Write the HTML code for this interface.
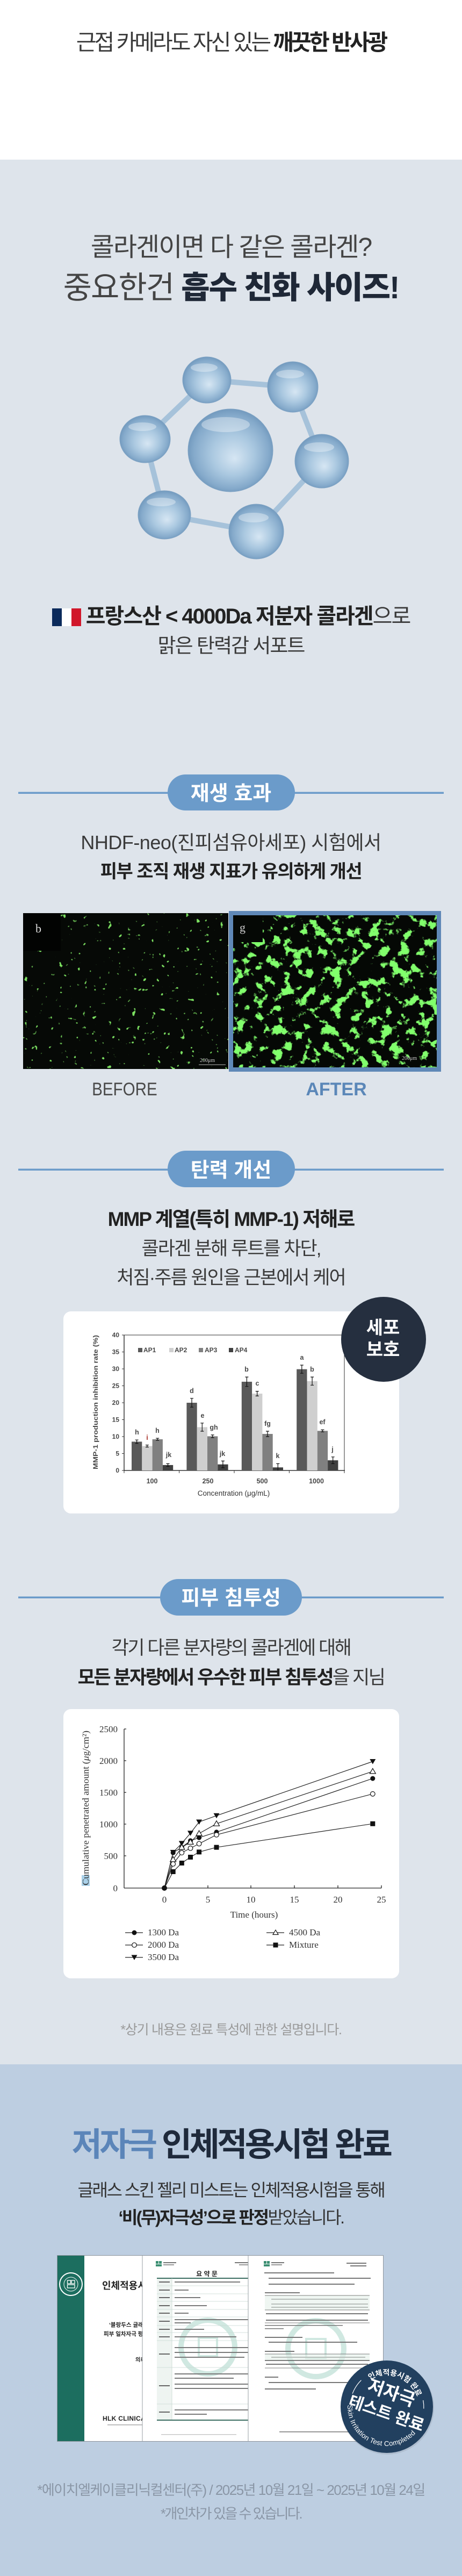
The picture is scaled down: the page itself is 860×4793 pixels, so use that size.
<!DOCTYPE html>
<html><head><meta charset="utf-8">
<style>
html,body{margin:0;padding:0;}
body{width:860px;height:4793px;position:relative;overflow:hidden;background:#fff;font-family:"Liberation Sans","Noto Sans CJK KR",sans-serif;}
.bg{position:absolute;left:0;width:860px;}
.t{position:absolute;left:0;width:860px;text-align:center;white-space:nowrap;line-height:1;font-family:"Liberation Sans","Noto Sans CJK KR",sans-serif;color:#3a3a3a;}
.t b{font-weight:700;color:#222;}
.flag{display:inline-block;width:54px;height:33px;vertical-align:-5px;margin-right:9px;background:linear-gradient(90deg,#0b2a5b 0 33.3%,#ffffff 33.3% 66.6%,#d1172b 66.6% 100%);}
svg{position:absolute;left:0;top:0;}
</style></head>
<body>
<div class="bg" style="top:0;height:297px;background:#ffffff"></div>
<div class="bg" style="top:297px;height:3544px;background:#dee4eb"></div>
<div class="bg" style="top:3841px;height:952px;background:#bdcee1"></div>

<svg width="860" height="4793" viewBox="0 0 860 4793" xmlns="http://www.w3.org/2000/svg">
<defs>
<radialGradient id="sph" cx="0.5" cy="0.5" r="0.55" fx="0.55" fy="0.6">
<stop offset="0" stop-color="#d6e6f3"/>
<stop offset="0.45" stop-color="#aac8e0"/>
<stop offset="0.8" stop-color="#85aacb"/>
<stop offset="1" stop-color="#6790b6"/>
</radialGradient>
<filter id="fa" x="0" y="0" width="1" height="1">
<feTurbulence type="fractalNoise" baseFrequency="0.055" numOctaves="4" seed="7" result="n"/>
<feColorMatrix in="n" type="matrix" values="0 0 0 0 0.22  0 0 0 0 1  0 0 0 0 0.15  12 0 0 0 -6.7"/>
</filter>
<filter id="fb" x="0" y="0" width="1" height="1">
<feTurbulence type="fractalNoise" baseFrequency="0.11" numOctaves="2" seed="4" result="n"/>
<feColorMatrix in="n" type="matrix" values="0 0 0 0 0.2  0 0 0 0 0.75  0 0 0 0 0.12  14 0 0 0 -9.9"/>
</filter>
</defs>

<!-- molecule -->
<g stroke="#a6c2da" stroke-width="10" stroke-linecap="round" fill="none">
<line x1="385" y1="707" x2="545" y2="720"/>
<line x1="545" y1="720" x2="599" y2="858"/>
<line x1="599" y1="858" x2="477" y2="989"/>
<line x1="477" y1="989" x2="306" y2="958"/>
<line x1="306" y1="958" x2="270" y2="817"/>
<line x1="270" y1="817" x2="385" y2="707"/>
</g>
<g fill="url(#sph)" stroke="#7fa3c4" stroke-width="1">
<ellipse cx="429" cy="838" rx="79" ry="77"/>
<ellipse cx="385" cy="707" rx="45" ry="43"/>
<ellipse cx="545" cy="720" rx="47" ry="47"/>
<ellipse cx="270" cy="817" rx="47" ry="44"/>
<ellipse cx="599" cy="858" rx="50" ry="50"/>
<ellipse cx="306" cy="958" rx="49" ry="45"/>
<ellipse cx="477" cy="989" rx="51" ry="51"/>
</g>
<g fill="#ffffff" opacity="0.35">
<ellipse cx="420" cy="790" rx="45" ry="14"/>
<ellipse cx="380" cy="684" rx="25" ry="8"/>
<ellipse cx="540" cy="696" rx="26" ry="8"/>
<ellipse cx="265" cy="794" rx="26" ry="8"/>
<ellipse cx="594" cy="832" rx="28" ry="9"/>
<ellipse cx="300" cy="934" rx="27" ry="8"/>
<ellipse cx="472" cy="963" rx="28" ry="9"/>
</g>

<!-- pill 1 -->
<rect x="34" y="1473.5" width="792" height="3.5" fill="#6b9bca"/>
<rect x="312" y="1441" width="237" height="67" rx="33.5" fill="#6b9bca"/>
<text x="430" y="1489" text-anchor="middle" font-family="Liberation Sans, Noto Sans CJK KR, sans-serif" font-weight="700" font-size="38" fill="#ffffff">재생 효과</text>

<!-- before / after images -->
<rect x="43" y="1699" width="382" height="290" fill="#060906"/>
<rect x="43" y="1699" width="382" height="290" fill="#000" filter="url(#fb)"/>
<rect x="43" y="1699" width="70" height="70" fill="#020302"/>
<text x="66" y="1735" font-family="Liberation Serif, serif" font-size="22" fill="#dddddd">b</text>
<text x="372" y="1976" font-family="Liberation Serif, serif" font-size="10" fill="#cccccc">200μm</text>
<line x1="370" y1="1981" x2="420" y2="1981" stroke="#bbbbbb" stroke-width="1"/>
<rect x="426" y="1695" width="395" height="299" fill="#5f88b7"/>
<rect x="434" y="1703" width="379" height="283" fill="#050805"/>
<rect x="434" y="1703" width="379" height="283" fill="#000" filter="url(#fa)"/>
<rect x="434" y="1703" width="55" height="50" fill="#050805"/>
<text x="446" y="1733" font-family="Liberation Serif, serif" font-size="22" fill="#cccccc">g</text>
<text x="748" y="1972" font-family="Liberation Serif, serif" font-size="10" fill="#cccccc">200μm</text>

<!-- pill 2 -->
<rect x="34" y="2174.5" width="792" height="3.5" fill="#6b9bca"/>
<rect x="312" y="2141" width="237" height="68" rx="34" fill="#6b9bca"/>
<text x="430" y="2190" text-anchor="middle" font-family="Liberation Sans, Noto Sans CJK KR, sans-serif" font-weight="700" font-size="38" fill="#ffffff">탄력 개선</text>

<!-- card 1 : bar chart -->
<rect x="118" y="2440" width="625" height="376" rx="14" fill="#ffffff"/>
<g font-family="Liberation Sans, Arial, sans-serif" font-weight="700" fill="#474747">
<g font-size="12" text-anchor="end">
<text x="222" y="2740">0</text>
<text x="222" y="2708.5">5</text>
<text x="222" y="2677">10</text>
<text x="222" y="2645.5">15</text>
<text x="222" y="2614">20</text>
<text x="222" y="2582.5">25</text>
<text x="222" y="2551">30</text>
<text x="222" y="2519.5">35</text>
<text x="222" y="2488">40</text>
</g>
<text transform="translate(182,2609) rotate(-90)" text-anchor="middle" font-size="12" textLength="250" lengthAdjust="spacingAndGlyphs">MMP-1 production inhibition rate (%)</text>
<g font-size="12.5" text-anchor="middle">
<text x="283" y="2760">100</text>
<text x="387" y="2760">250</text>
<text x="488" y="2760">500</text>
<text x="589" y="2760">1000</text>
</g>
<text x="435" y="2783" text-anchor="middle" font-size="13.5" font-weight="400" fill="#333">Concentration (μg/mL)</text>
<g font-size="12">
<rect x="257" y="2508" width="8" height="8" fill="#595959"/><text x="267" y="2516">AP1</text>
<rect x="315" y="2508" width="8" height="8" fill="#cfcfcf"/><text x="325" y="2516">AP2</text>
<rect x="370" y="2508" width="8" height="8" fill="#808080"/><text x="381" y="2516">AP3</text>
<rect x="426" y="2508" width="8" height="8" fill="#404040"/><text x="437" y="2516">AP4</text>
</g>
</g>
<g stroke="#333" fill="none">
<line x1="231" y1="2484" x2="641" y2="2484" stroke-width="1"/>
<line x1="641" y1="2484" x2="641" y2="2736" stroke-width="1"/>
<line x1="231" y1="2484" x2="231" y2="2737" stroke-width="1.5"/>
<line x1="231" y1="2736" x2="642" y2="2736" stroke-width="1.5"/>
<path d="M227 2736H231M227 2704.5H231M227 2673H231M227 2641.5H231M227 2610H231M227 2578.5H231M227 2547H231M227 2515.5H231M227 2484H231" stroke-width="1"/>
<path d="M231 2736V2741M333.6 2736V2741M436 2736V2741M538.4 2736V2741M641 2736V2741" stroke-width="1"/>
</g>
<g>
<rect x="245" y="2682.4" width="19.3" height="53.6" fill="#595959"/>
<rect x="264.3" y="2690.6" width="19.3" height="45.4" fill="#cfcfcf"/>
<rect x="283.6" y="2678" width="19.3" height="58" fill="#808080"/>
<rect x="302.9" y="2725.9" width="19.3" height="10.1" fill="#404040"/>
<rect x="347.4" y="2610" width="19.3" height="126" fill="#595959"/>
<rect x="366.7" y="2655.4" width="19.3" height="80.6" fill="#cfcfcf"/>
<rect x="386" y="2672.4" width="19.3" height="63.6" fill="#808080"/>
<rect x="405.3" y="2724.7" width="19.3" height="11.3" fill="#404040"/>
<rect x="449.8" y="2570.9" width="19.3" height="165.1" fill="#595959"/>
<rect x="469.1" y="2593" width="19.3" height="143" fill="#cfcfcf"/>
<rect x="488.4" y="2668" width="19.3" height="68" fill="#808080"/>
<rect x="507.7" y="2730.3" width="19.3" height="5.7" fill="#404040"/>
<rect x="552.2" y="2547.6" width="19.3" height="188.4" fill="#595959"/>
<rect x="571.5" y="2569.7" width="19.3" height="166.3" fill="#cfcfcf"/>
<rect x="590.8" y="2662.3" width="19.3" height="73.7" fill="#808080"/>
<rect x="610.1" y="2717.1" width="19.3" height="18.9" fill="#404040"/>
</g>
<g stroke="#111" stroke-width="1.2" fill="none">
<path d="M254.6 2679.2V2685.6M251.6 2679.2H257.6M251.6 2685.6H257.6"/>
<path d="M273.9 2688.7V2692.5M270.9 2688.7H276.9M270.9 2692.5H276.9"/>
<path d="M293.2 2676.1V2679.9M290.2 2676.1H296.2M290.2 2679.9H296.2"/>
<path d="M312.5 2723.4V2728.4M309.5 2723.4H315.5M309.5 2728.4H315.5"/>
<path d="M357 2601.8V2618.2M354 2601.8H360M354 2618.2H360"/>
<path d="M376.3 2647.8V2663M373.3 2647.8H379.3M373.3 2663H379.3"/>
<path d="M395.6 2669.9V2674.9M392.6 2669.9H398.6M392.6 2674.9H398.6"/>
<path d="M414.9 2718.4V2731M411.9 2718.4H417.9M411.9 2731H417.9"/>
<path d="M459.4 2562.1V2579.7M456.4 2562.1H462.4M456.4 2579.7H462.4"/>
<path d="M478.7 2588.6V2597.4M475.7 2588.6H481.7M475.7 2597.4H481.7"/>
<path d="M498 2663V2673M495 2663H501M495 2673H501"/>
<path d="M517.3 2723.4V2736M514.3 2723.4H520.3"/>
<path d="M561.8 2540V2555.2M558.8 2540H564.8M558.8 2555.2H564.8"/>
<path d="M581.1 2562.1V2577.3M578.1 2562.1H584.1M578.1 2577.3H584.1"/>
<path d="M600.4 2660.4V2664.2M597.4 2660.4H603.4M597.4 2664.2H603.4"/>
<path d="M619.7 2710.8V2723.4M616.7 2710.8H622.7M616.7 2723.4H622.7"/>
</g>
<g font-family="Liberation Sans, Arial, sans-serif" font-size="12.5" font-weight="700" fill="#474747" text-anchor="middle">
<text x="255" y="2669">h</text>
<text x="274" y="2679" fill="#a8322a">i</text>
<text x="293" y="2666">h</text>
<text x="314" y="2711">jk</text>
<text x="357" y="2592">d</text>
<text x="377" y="2638">e</text>
<text x="398" y="2660">gh</text>
<text x="414" y="2709">jk</text>
<text x="459" y="2552">b</text>
<text x="479" y="2578">c</text>
<text x="498" y="2653">fg</text>
<text x="517" y="2713">k</text>
<text x="562" y="2530">a</text>
<text x="581" y="2552">b</text>
<text x="600" y="2650">ef</text>
<text x="619" y="2701">j</text>
</g>
<circle cx="714" cy="2492" r="79" fill="#252f3f"/>
<text x="713" y="2482" text-anchor="middle" font-family="Liberation Sans, Noto Sans CJK KR, sans-serif" font-weight="700" font-size="34" fill="#ffffff">세포</text>
<text x="713" y="2523" text-anchor="middle" font-family="Liberation Sans, Noto Sans CJK KR, sans-serif" font-weight="700" font-size="34" fill="#ffffff">보호</text>

<!-- pill 3 -->
<rect x="34" y="2970.5" width="792" height="3.5" fill="#6b9bca"/>
<rect x="298" y="2938" width="264" height="68" rx="34" fill="#6b9bca"/>
<text x="430" y="2986" text-anchor="middle" font-family="Liberation Sans, Noto Sans CJK KR, sans-serif" font-weight="700" font-size="38" fill="#ffffff">피부 침투성</text>

<!-- card 2 : line chart -->
<rect x="118" y="3180" width="625" height="501" rx="14" fill="#ffffff"/>
<g stroke="#222" fill="none" stroke-width="1.3">
<line x1="231" y1="3217" x2="231" y2="3513"/>
<line x1="231" y1="3513" x2="710" y2="3513"/>
<path d="M231 3217H235M231 3276H235M231 3335H235M231 3394H235M231 3453H235"/>
<path d="M306 3513V3508M387 3513V3508M467 3513V3508M548 3513V3508M629 3513V3508M710 3513V3508"/>
</g>
<g font-family="Liberation Serif, serif" font-size="17" fill="#333">
<g text-anchor="end">
<text x="219" y="3223">2500</text>
<text x="219" y="3282">2000</text>
<text x="219" y="3341">1500</text>
<text x="219" y="3400">1000</text>
<text x="219" y="3459">500</text>
<text x="219" y="3519">0</text>
</g>
<g text-anchor="middle">
<text x="306" y="3540">0</text>
<text x="387" y="3540">5</text>
<text x="467" y="3540">10</text>
<text x="548" y="3540">15</text>
<text x="629" y="3540">20</text>
<text x="710" y="3540">25</text>
<text x="473" y="3568">Time (hours)</text>
</g>
<rect x="152" y="3489" width="15" height="20" fill="#a9d0e8"/>
<text transform="translate(165,3364) rotate(-90)" text-anchor="middle" textLength="288" lengthAdjust="spacingAndGlyphs">Cumulative penetrated amount (<tspan font-style="italic">μ</tspan>g/cm²)</text>
<text x="275" y="3601">1300 Da</text>
<text x="275" y="3624">2000 Da</text>
<text x="275" y="3647">3500 Da</text>
<text x="538" y="3601">4500 Da</text>
<text x="538" y="3624">Mixture</text>
</g>
<g stroke="#222" stroke-width="1.2" fill="none">
<polyline points="306,3513 322.2,3446.5 338.3,3429.9 354.5,3410.9 370.6,3390 403,3378.3 693.8,3277.5"/>
<polyline points="306,3513 322.2,3459.8 338.3,3437.2 354.5,3427.5 370.6,3411.5 403,3393.3 693.8,3295.9"/>
<polyline points="306,3513 322.2,3447.2 338.3,3437.2 354.5,3424.9 370.6,3419.2 403,3408.9 693.8,3309.1"/>
<polyline points="306,3513 322.2,3468.1 338.3,3447.2 354.5,3438.9 370.6,3430.5 403,3413.9 693.8,3337.8"/>
<polyline points="306,3513 322.2,3482.5 338.3,3466.5 354.5,3455.5 370.6,3445.9 403,3437.2 693.8,3393.3"/>
<line x1="233" y1="3596" x2="266" y2="3596"/>
<line x1="233" y1="3619" x2="266" y2="3619"/>
<line x1="233" y1="3642" x2="266" y2="3642"/>
<line x1="496" y1="3596" x2="529" y2="3596"/>
<line x1="496" y1="3619" x2="529" y2="3619"/>
</g>
<g fill="#111">
<path d="M316.7 3442H327.7L322.2 3451.5ZM332.8 3425.4H343.8L338.3 3434.9ZM349 3406.4H360L354.5 3415.9ZM365.1 3385.5H376.1L370.6 3395ZM397.5 3373.8H408.5L403 3383.3ZM688.3 3273H699.3L693.8 3282.5ZM244.5 3637.5H255.5L250 3647Z"/>
<circle cx="322.2" cy="3447.2" r="4.5"/><circle cx="338.3" cy="3437.2" r="4.5"/><circle cx="354.5" cy="3424.9" r="4.5"/><circle cx="370.6" cy="3419.2" r="4.5"/><circle cx="403" cy="3408.9" r="4.5"/><circle cx="693.8" cy="3309.1" r="4.5"/><circle cx="250" cy="3596" r="4.5"/>
<rect x="317.7" y="3478" width="9" height="9"/><rect x="333.8" y="3462" width="9" height="9"/><rect x="350" y="3451" width="9" height="9"/><rect x="366.1" y="3441.4" width="9" height="9"/><rect x="398.5" y="3432.7" width="9" height="9"/><rect x="689.3" y="3388.8" width="9" height="9"/><rect x="508.5" y="3614.5" width="9" height="9"/>
<circle cx="306" cy="3513" r="5"/>
</g>
<g fill="#ffffff" stroke="#111" stroke-width="1.2">
<circle cx="322.2" cy="3468.1" r="4.3"/><circle cx="338.3" cy="3447.2" r="4.3"/><circle cx="354.5" cy="3438.9" r="4.3"/><circle cx="370.6" cy="3430.5" r="4.3"/><circle cx="403" cy="3413.9" r="4.3"/><circle cx="693.8" cy="3337.8" r="4.3"/><circle cx="250" cy="3619" r="4.3"/>
<path d="M322.2 3454.3L327.7 3463.8H316.7ZM338.3 3431.7L343.8 3441.2H332.8ZM354.5 3422L360 3431.5H349ZM370.6 3406L376.1 3415.5H365.1ZM403 3387.8L408.5 3397.3H397.5ZM693.8 3290.4L699.3 3299.9H688.3ZM513 3591L518 3599.5H508Z"/>
</g>

<!-- documents -->
<rect x="106.5" y="4196.5" width="607" height="346" fill="#ffffff" stroke="#8d949c" stroke-width="1"/>
<rect x="107" y="4197" width="50" height="345" fill="#1c6e5f"/>
<circle cx="132" cy="4250" r="21" fill="#1c6e5f" stroke="#ffffff" stroke-width="2"/>
<circle cx="132" cy="4250" r="13" fill="none" stroke="#ffffff" stroke-width="1"/>
<g fill="none" stroke="#ffffff" stroke-width="1.3"><rect x="125.5" y="4243" width="6" height="6"/><rect x="133" y="4243" width="6" height="6"/><rect x="125.5" y="4251" width="13.5" height="6"/></g>
<g font-family="Liberation Sans, Noto Sans CJK KR, sans-serif" fill="#222">
<text x="190" y="4259" font-size="18" font-weight="700">인체적용시험</text>
<text x="203" y="4329" font-size="10.5" font-weight="700">‘블랑두스 글래스</text>
<text x="193" y="4346" font-size="10.5" font-weight="700">피부 일차자극 평가에</text>
<text x="252" y="4394" font-size="10" font-weight="700">의뢰</text>
<text x="191" y="4504" font-size="12" font-weight="700" letter-spacing="0.3">HLK CLINICAL TRIAL</text>
</g>
<rect x="200" y="4511" width="70" height="1.5" fill="#aaa"/>
<!-- page 2 -->
<rect x="265" y="4197" width="197" height="345" fill="#ffffff"/>
<line x1="265" y1="4197" x2="265" y2="4542" stroke="#9aa0a6" stroke-width="1"/>
<circle cx="387" cy="4367" r="50" fill="none" stroke="#a9d6c9" stroke-width="10" opacity="0.55"/>
<rect x="370" y="4350" width="34" height="34" fill="none" stroke="#a9d6c9" stroke-width="4" opacity="0.55"/>
<g fill="#3c8f73"><rect x="290" y="4207" width="5" height="5"/><rect x="296" y="4207" width="5" height="5"/><rect x="290" y="4213" width="11" height="4"/></g>
<rect x="304" y="4209" width="24" height="2" fill="#777"/><rect x="304" y="4213" width="20" height="2" fill="#999"/>
<rect x="437" y="4209" width="25" height="2" fill="#777"/><rect x="445" y="4213" width="17" height="2" fill="#999"/>
<text x="385" y="4235" text-anchor="middle" font-family="Liberation Sans, Noto Sans CJK KR, sans-serif" font-size="12" font-weight="700" fill="#222">요 약 문</text>
<rect x="292" y="4239" width="28" height="264" fill="#eef4f1"/>
<line x1="292" y1="4239" x2="462" y2="4239" stroke="#3c6e62" stroke-width="2"/>
<line x1="320" y1="4239" x2="320" y2="4503" stroke="#c8d8d2" stroke-width="0.8"/>
<g stroke="#c8d8d2" stroke-width="0.8">
<line x1="292" y1="4253" x2="462" y2="4253"/><line x1="292" y1="4268" x2="462" y2="4268"/><line x1="292" y1="4282" x2="462" y2="4282"/><line x1="292" y1="4297" x2="462" y2="4297"/><line x1="292" y1="4311" x2="462" y2="4311"/><line x1="292" y1="4327" x2="462" y2="4327"/><line x1="292" y1="4340" x2="462" y2="4340"/><line x1="292" y1="4355" x2="462" y2="4355"/><line x1="292" y1="4405" x2="462" y2="4405"/><line x1="292" y1="4473" x2="462" y2="4473"/>
</g>
<line x1="292" y1="4503" x2="462" y2="4503" stroke="#3c6e62" stroke-width="2"/>
<g fill="#666">
<rect x="296" y="4245" width="20" height="2"/><rect x="296" y="4260" width="20" height="2"/><rect x="296" y="4274" width="20" height="2"/><rect x="296" y="4289" width="20" height="2"/><rect x="296" y="4303" width="20" height="2"/><rect x="296" y="4318" width="20" height="2"/><rect x="296" y="4333" width="20" height="2"/><rect x="296" y="4347" width="20" height="2"/><rect x="296" y="4379" width="20" height="2"/><rect x="296" y="4438" width="20" height="2"/><rect x="296" y="4487" width="20" height="2"/>
</g>
<g fill="#7a7a7a">
<rect x="325" y="4245" width="122" height="2"/><rect x="325" y="4260" width="26" height="2"/><rect x="325" y="4274" width="48" height="2"/><rect x="325" y="4289" width="60" height="2"/><rect x="325" y="4303" width="26" height="2"/><rect x="325" y="4315" width="137" height="2"/><rect x="325" y="4321" width="30" height="2"/><rect x="325" y="4333" width="55" height="2"/><rect x="325" y="4347" width="115" height="2"/>
<rect x="325" y="4367" width="137" height="2"/><rect x="325" y="4376" width="137" height="2"/><rect x="325" y="4385" width="130" height="2"/>
<rect x="325" y="4416" width="137" height="2"/><rect x="325" y="4424" width="110" height="2"/><rect x="325" y="4435" width="137" height="2"/><rect x="325" y="4443" width="137" height="2"/>
<rect x="325" y="4483" width="137" height="2"/><rect x="325" y="4491" width="60" height="2"/>
</g>
<rect x="300" y="4529" width="140" height="1.5" fill="#c8c8c8"/>
<!-- page 3 -->
<rect x="462" y="4197" width="251" height="345" fill="#ffffff"/>
<line x1="462" y1="4197" x2="462" y2="4542" stroke="#9aa0a6" stroke-width="1"/>
<circle cx="588" cy="4370" r="52" fill="none" stroke="#a9d6c9" stroke-width="10" opacity="0.55"/>
<rect x="570" y="4352" width="36" height="36" fill="none" stroke="#a9d6c9" stroke-width="4" opacity="0.55"/>
<g fill="#3c8f73"><rect x="491" y="4207" width="5" height="5"/><rect x="497" y="4207" width="5" height="5"/><rect x="491" y="4213" width="11" height="4"/></g>
<rect x="505" y="4209" width="24" height="2" fill="#777"/><rect x="505" y="4213" width="20" height="2" fill="#999"/>
<g fill="#777">
<rect x="645" y="4210" width="37" height="2"/><rect x="652" y="4215" width="30" height="2"/>
<rect x="492" y="4228" width="130" height="2"/><rect x="500" y="4238" width="190" height="2"/><rect x="500" y="4249" width="160" height="2"/>
<rect x="493" y="4265" width="65" height="2"/>
<rect x="505" y="4277" width="180" height="2"/><rect x="505" y="4286" width="180" height="2"/><rect x="505" y="4292" width="180" height="2"/>
<rect x="495" y="4304" width="190" height="2"/><rect x="495" y="4316" width="190" height="2"/>
<rect x="493" y="4326" width="145" height="1.5"/><rect x="493" y="4332" width="35" height="1.5"/>
<rect x="493" y="4348" width="70" height="2"/><rect x="500" y="4357" width="165" height="2"/>
<rect x="493" y="4374" width="55" height="2"/><rect x="505" y="4385" width="175" height="2"/><rect x="495" y="4398" width="190" height="2"/>
<rect x="493" y="4422" width="25" height="2"/><rect x="500" y="4432" width="200" height="2"/><rect x="493" y="4444" width="95" height="2"/>
<rect x="520" y="4524" width="170" height="1.5"/>
</g>
<rect x="493" y="4271" width="195" height="27" fill="#e5f0ea" opacity="0.6"/>
<rect x="493" y="4380" width="195" height="12" fill="#e5f0ea" opacity="0.6"/>
<g stroke="#555" stroke-width="0.8">
<line x1="493" y1="4271" x2="688" y2="4271"/><line x1="493" y1="4298" x2="688" y2="4298"/><line x1="493" y1="4322" x2="688" y2="4322"/>
<line x1="493" y1="4380" x2="688" y2="4380"/><line x1="493" y1="4392" x2="688" y2="4392" stroke-width="1.6"/><line x1="493" y1="4406" x2="688" y2="4406"/>
</g>

<!-- badge -->
<circle cx="721" cy="4480" r="87" fill="#000" opacity="0.08"/>
<circle cx="720" cy="4478" r="86" fill="#22405f"/>
<defs>
<path id="arcTop" d="M664.6,4457.8 A59,59 0 0,1 779,4478"/>
<path id="arcBot" d="M647.3,4471.6 A73,73 0 0,0 788.6,4503"/>
</defs>
<text font-family="Liberation Sans, Noto Sans CJK KR, sans-serif" font-weight="700" font-size="14" fill="#ffffff"><textPath href="#arcTop" startOffset="56%" text-anchor="middle">인체적용시험 완료</textPath></text>
<text font-family="Liberation Sans, sans-serif" font-size="13" fill="#ffffff"><textPath href="#arcBot" startOffset="3" textLength="178" lengthAdjust="spacing">Skin Irritation Test Completed</textPath></text>
<g fill="none" stroke="#ffffff" stroke-width="1.2">
<path d="M656.1,4453.7 A69,69 0 0,1 672.4,4428.7"/>
<path d="M787.7,4466.0 A69,69 0 0,1 788.8,4481.6"/>
</g>
<g font-family="Liberation Sans, Noto Sans CJK KR, sans-serif" font-weight="700" fill="#ffffff" text-anchor="middle">
<text transform="translate(725,4463) rotate(19)" font-size="33">저자극</text>
<text transform="translate(716,4500) rotate(19)" font-size="30">테스트 완료</text>
</g>
</svg>

<div class="t" style="top:59px;font-size:41px;letter-spacing:-4px;">근접 카메라도 자신 있는 <b>깨끗한 반사광</b></div>

<div class="t" style="top:437px;font-size:48px;letter-spacing:-2px;color:#444;">콜라겐이면 다 같은 콜라겐?</div>
<div class="t" style="top:507px;font-size:58px;letter-spacing:-2px;color:#444;">중요한건 <b style="color:#1f2837;font-weight:900;">흡수 친화 사이즈!</b></div>

<div class="t" style="top:1127px;font-size:40px;letter-spacing:-2px;"><span class="flag"></span><b>프랑스산 &lt; 4000Da 저분자 콜라겐</b>으로</div>
<div class="t" style="top:1183px;font-size:37px;letter-spacing:-2px;">맑은 탄력감 서포트</div>

<div class="t" style="top:1550px;font-size:36px;letter-spacing:-0.5px;">NHDF-neo(진피섬유아세포) 시험에서</div>
<div class="t" style="top:1605px;font-size:34px;letter-spacing:-1.5px;"><b>피부 조직 재생 지표가 유의하게 개선</b></div>

<div style="position:absolute;left:132px;width:200px;top:2010px;text-align:center;font-size:34px;line-height:1;color:#4a4a4a;white-space:nowrap;"><span style="display:inline-block;transform:scaleX(0.87);">BEFORE</span></div>
<div style="position:absolute;left:526px;width:200px;top:2010px;text-align:center;font-size:34px;line-height:1;color:#5b87b8;font-weight:700;white-space:nowrap;">AFTER</div>

<div class="t" style="top:2250px;font-size:37px;letter-spacing:-2px;"><b>MMP 계열(특히 MMP-1) 저해로</b></div>
<div class="t" style="top:2306px;font-size:35px;letter-spacing:-2px;">콜라겐 분해 루트를 차단,</div>
<div class="t" style="top:2360px;font-size:35px;letter-spacing:-2px;">처짐·주름 원인을 근본에서 케어</div>

<div class="t" style="top:3049px;font-size:35px;letter-spacing:-2.5px;">각기 다른 분자량의 콜라겐에 대해</div>
<div class="t" style="top:3104px;font-size:35px;letter-spacing:-2.5px;"><b>모든 분자량에서 우수한 피부 침투성</b>을 지님</div>

<div class="t" style="top:3765px;font-size:25px;letter-spacing:-1.3px;color:#9a9a9a;">*상기 내용은 원료 특성에 관한 설명입니다.</div>

<div class="t" style="top:3960px;font-size:61px;letter-spacing:-4.5px;font-weight:700;color:#1f2a3b;"><span style="color:#5b85b9;">저자극</span> 인체적용시험 완료</div>
<div class="t" style="top:4059px;font-size:32px;letter-spacing:-2.5px;color:#333;">글래스 스킨 젤리 미스트는 인체적용시험을 통해</div>
<div class="t" style="top:4110px;font-size:32px;letter-spacing:-2.5px;color:#333;"><b>‘비(무)자극성’으로 판정</b>받았습니다.</div>

<div class="t" style="top:4620px;font-size:26px;letter-spacing:-1.5px;color:#8a96a6;">*에이치엘케이클리닉컬센터(주) / 2025년 10월 21일 ~ 2025년 10월 24일</div>
<div class="t" style="top:4664px;font-size:26px;letter-spacing:-2.5px;color:#8a96a6;">*개인차가 있을 수 있습니다.</div>
</body></html>
